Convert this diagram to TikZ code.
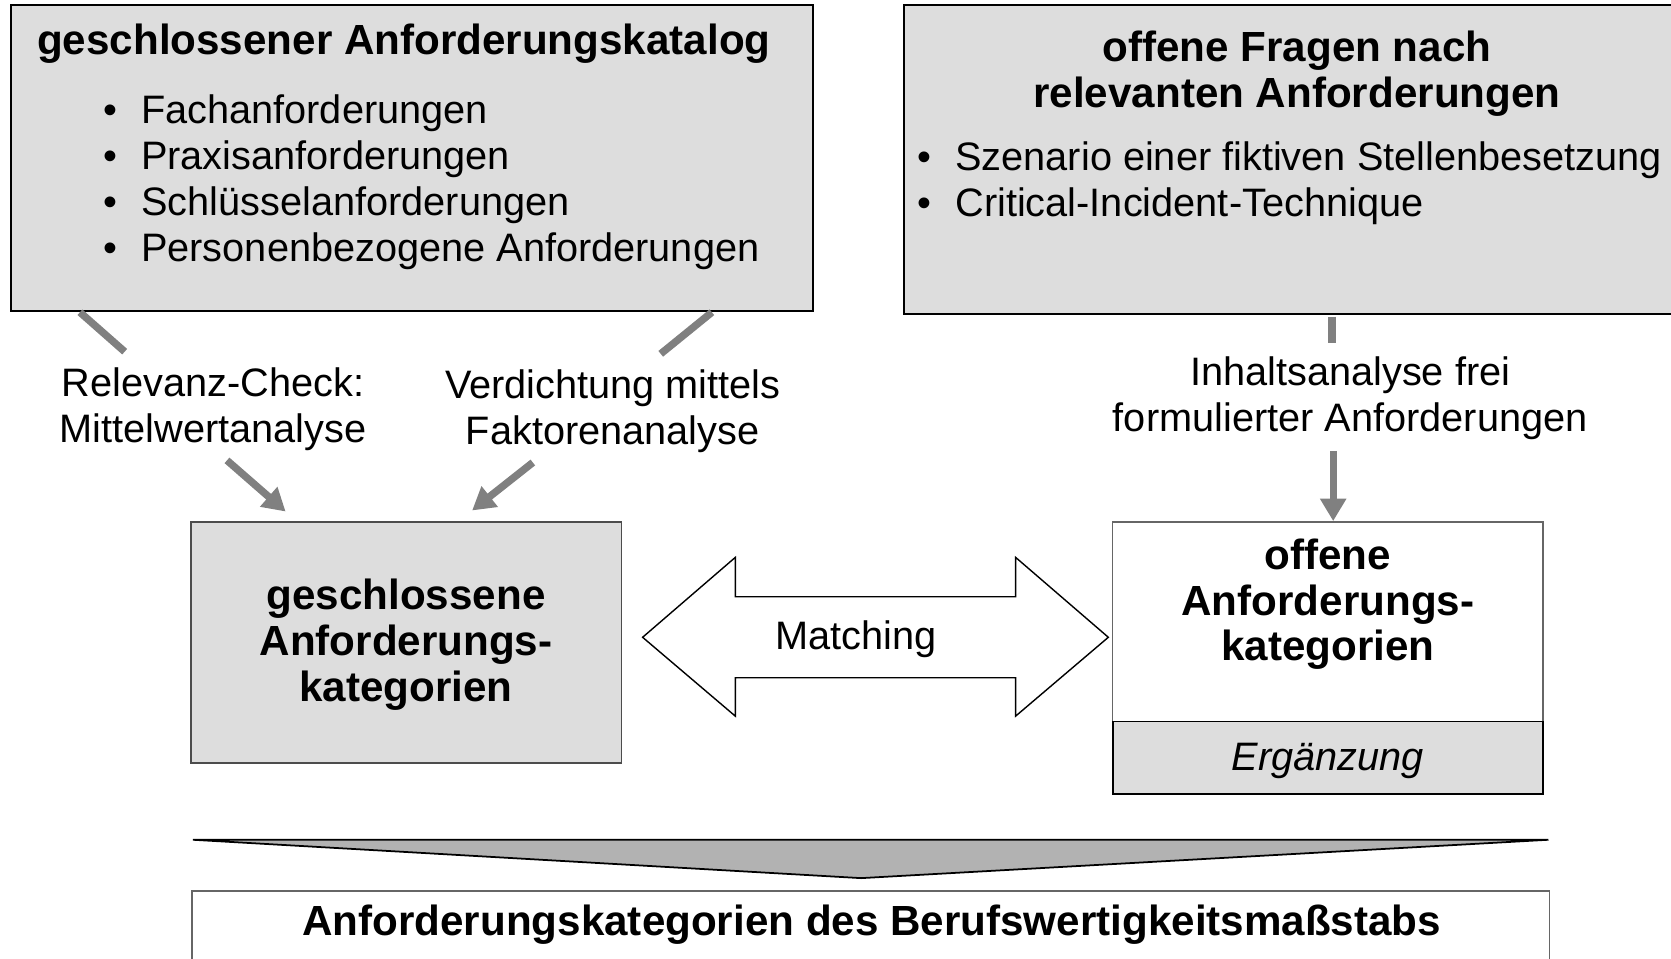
\documentclass[tikz,border=0pt]{standalone}
\usepackage{fontspec}
\setmainfont{Liberation Sans}
\usetikzlibrary{arrows.meta}
\definecolor{boxgray}{HTML}{DDDDDD}
\definecolor{flowgray}{HTML}{808080}
\definecolor{wedgegray}{HTML}{B2B2B2}
\tikzset{
    graybox/.style={draw=black, line width=1pt, fill=boxgray, minimum width=#1, inner sep=0pt},
    flow/.style={draw=flowgray, line width=4.2pt},
    flowtip/.style={flow, -{Triangle[length=0.45cm, width=0.5cm]}},
    plain/.style={inner sep=0pt, font=\fontsize{22.6}{26}\selectfont, align=center},
    heavy/.style={inner sep=0pt, font=\fontsize{24}{26}\selectfont\bfseries, align=center}
}
\newcommand{\dotitem}{\makebox[0.75cm][l]{•}}
\begin{document}
\begin{tikzpicture}[x=0.021314cm, y=-0.021314cm]
            \useasboundingbox (0,0) rectangle (1568,899);
            \node[graybox=16.05cm, minimum height=6.12cm] (katalog) at (386.5,148.5) {};
            \node[graybox=17.73cm, minimum height=6.18cm] (fragen) at (1264,150) {};
            \node[heavy] (katalogtitel) at (379,41) {geschlossener Anforderungskatalog};
            \node[plain, align=left, anchor=west] (katalogliste) at (97,171) {\dotitem Fachanforderungen\\ \dotitem Praxisanforderungen\\ \dotitem Schlüsselanforderungen\\ \dotitem Personenbezogene Anforderungen};
            \node[heavy] (fragentitel) at (1217,69) {offene Fragen nach\\relevanten Anforderungen};
            \node[plain, align=left, anchor=west] (fragenliste) at (861,172) {\dotitem Szenario einer fiktiven Stellenbesetzung\\ \dotitem Critical-Incident-Technique};

            \node[plain] (relevanz) at (200,384) {Relevanz-Check:\\Mittelwertanalyse};
            \node[plain] (verdichtung) at (575,386) {Verdichtung mittels\\Faktorenanalyse};
            \node[plain] (inhalt) at (1267,374) {Inhaltsanalyse frei\\formulierter Anforderungen};

            \node[graybox=8.61cm, draw=black!70, line width=0.8pt, minimum height=4.82cm] (geschlossen) at (381,603) {};
            \node[heavy] (geschlossentext) at (381,605) {geschlossene\\Anforderungs-\\kategorien};
            \node[draw=black!60, line width=0.8pt, fill=white, minimum width=8.61cm, minimum height=3.99cm, inner sep=0pt] (offen) at (1246,583.5) {};
            \node[heavy] (offentext) at (1246,567) {offene\\Anforderungs-\\kategorien};
            \node[graybox=8.61cm, minimum height=1.45cm] (ergaenzung) at (1246,711) {};
            \node[plain, font=\fontsize{22.6}{26}\selectfont\itshape] (ergaenzungtext) at (1246,714) {Ergänzung};

            \coordinate (r1) at (75,293);
            \coordinate (r2) at (117,330);
            \coordinate (r3) at (213,432);
            \coordinate (r4) at (268,480);
            \coordinate (v1) at (668,293);
            \coordinate (v2) at (620,332);
            \coordinate (v3) at (500,434);
            \coordinate (v4) at (443,479);
            \coordinate (i1) at (1250,297);
            \coordinate (i2) at (1250,322);
            \coordinate (i3) at (1251,423);
            \coordinate (i4) at (1251,489);
            \draw[flow] (r1) -- (r2);
            \draw[flowtip] (r3) -- (r4);
            \draw[flow] (v1) -- (v2);
            \draw[flowtip] (v3) -- (v4);
            \draw[flow] (i1) -- (i2);
            \draw[flowtip] (i3) -- (i4);

            \draw[black, line width=0.8pt, fill=white, line join=miter] (603,598) -- (690,523) -- (690,560) -- (953,560) -- (953,523) -- (1040,598) -- (953,672) -- (953,636) -- (690,636) -- (690,672) -- cycle;
            \node[plain] (matching) at (803,600) {Matching};

            \draw[black, line width=1pt, fill=wedgegray] (181,788) -- (1453,788) -- (808,824) -- cycle;
            \node[draw=black!60, line width=0.8pt, fill=white, minimum width=27.15cm, minimum height=3.5cm, inner sep=0pt] (massstab) at (817,918) {};
            \node[heavy] (massstabtext) at (818,868) {Anforderungskategorien des Berufswertigkeitsmaßstabs};
        \end{tikzpicture}
\end{document}
